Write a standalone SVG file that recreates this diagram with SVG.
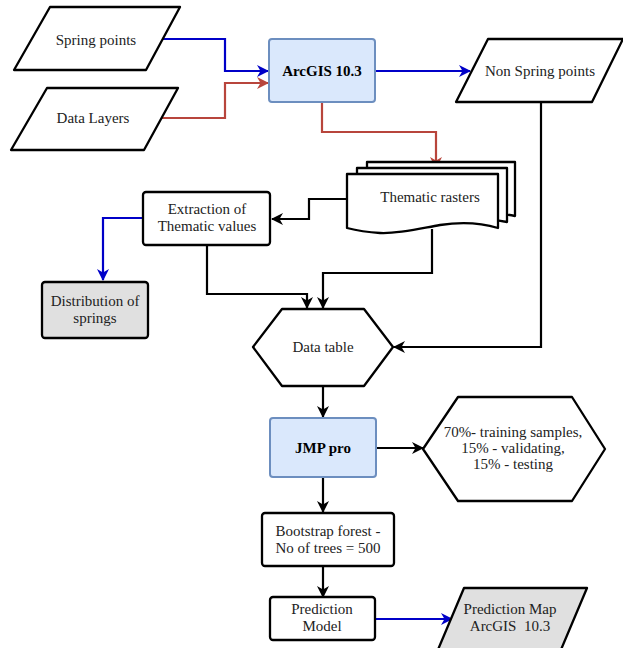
<svg xmlns="http://www.w3.org/2000/svg" width="623" height="648" viewBox="0 0 623 648">
<style>
.n{fill:#ffffff;stroke:#000;stroke-width:2.3;stroke-linejoin:round}
.b{fill:#dae8fc;stroke:#6c8ebf;stroke-width:2}
.g{fill:#e0e0e0;stroke:#000;stroke-width:2.3;stroke-linejoin:round}
text{font-family:"Liberation Serif","Times New Roman",serif;font-size:15px;fill:#222;text-anchor:middle;dominant-baseline:central}
.bold{font-weight:bold;fill:#000}
.c{fill:none;stroke-width:2.2;stroke-linejoin:miter}
.k{stroke:#000}
.bl{stroke:#0000c8}
.rd{stroke:#b8453c}
</style>
<defs>
<marker id="ak" markerUnits="userSpaceOnUse" markerWidth="12" markerHeight="12" viewBox="0 0 12 12" refX="11" refY="6" orient="auto"><path d="M0,0 L12,6 L0,12 L3.5,6 Z" fill="#000"/></marker>
<marker id="ab" markerUnits="userSpaceOnUse" markerWidth="12" markerHeight="12" viewBox="0 0 12 12" refX="11" refY="6" orient="auto"><path d="M0,0 L12,6 L0,12 L3.5,6 Z" fill="#0000c8"/></marker>
<marker id="ar" markerUnits="userSpaceOnUse" markerWidth="12" markerHeight="12" viewBox="0 0 12 12" refX="11" refY="6" orient="auto"><path d="M0,0 L12,6 L0,12 L3.5,6 Z" fill="#b8453c"/></marker>
</defs>
<rect width="623" height="648" fill="#ffffff"/>
<g id="connectors">
<path class="c bl" d="M163,39 H225 V71 H268" marker-end="url(#ab)"/>
<path class="c rd" d="M161,118 H225 V83 H268" marker-end="url(#ar)"/>
<path class="c bl" d="M375,71 H470" marker-end="url(#ab)"/>
<path class="c rd" d="M322,102 V132 H436 V168" marker-end="url(#ar)"/>
<path class="c k" d="M347,199 H309 V219 H272" marker-end="url(#ak)"/>
<path class="c bl" d="M143,218 H103 V280" marker-end="url(#ab)"/>
<path class="c k" d="M207,245 V294 H307 V308" marker-end="url(#ak)"/>
<path class="c k" d="M432,229 V273 H323 V308" marker-end="url(#ak)"/>
<path class="c k" d="M541,102 V347 H394" marker-end="url(#ak)"/>
<path class="c k" d="M323,386 V417" marker-end="url(#ak)"/>
<path class="c k" d="M376,448 H423" marker-end="url(#ak)"/>
<path class="c k" d="M323,477 V512" marker-end="url(#ak)"/>
<path class="c k" d="M323,566 V597" marker-end="url(#ak)"/>
<path class="c bl" d="M375,619 H452" marker-end="url(#ab)"/>
</g>
<g id="spring-points">
<path class="n" d="M50,7 H180 L146,70 H14 Z"/>
<text x="96" y="40">Spring points</text>
</g>
<g id="data-layers">
<path class="n" d="M47,88 H178 L144,150 H11 Z"/>
<text x="93" y="118">Data Layers</text>
</g>
<g id="arcgis">
<rect class="b" x="269" y="39" width="106" height="63" rx="3"/>
<text class="bold" x="322" y="71">ArcGIS 10.3</text>
</g>
<g id="non-spring-points">
<path class="n" d="M488,39 H623 L592,102 H456 Z"/>
<text x="540" y="71">Non Spring points</text>
</g>
<g id="thematic-rasters">
<path class="n" d="M367,162 H515 V216 C495,212 480,212 460,214 C440,217 420,219 400,218 L367,214 Z"/>
<path class="n" d="M357,168 H507 V222 C487,218 470,218 450,220 C430,223 410,225 390,224 L357,220 Z"/>
<path class="n" d="M347,174 H498 V228 C478,222 460,222 440,225 C418,229 398,234 380,233 C365,232 355,230 347,228 Z"/>
<text x="430" y="197">Thematic rasters</text>
</g>
<g id="extraction">
<rect class="n" x="143" y="192" width="127" height="53" rx="3"/>
<text x="207" y="209">Extraction of</text>
<text x="207" y="226">Thematic values</text>
</g>
<g id="distribution">
<rect class="g" x="42" y="282" width="106" height="56" rx="3"/>
<text x="95" y="301">Distribution of</text>
<text x="95" y="318">springs</text>
</g>
<g id="data-table">
<path class="n" d="M253,347 L282,309 H364 L393,347 L364,386 H282 Z"/>
<text x="323" y="347">Data table</text>
</g>
<g id="jmp-pro">
<rect class="b" x="270" y="418" width="106" height="59" rx="3"/>
<text class="bold" x="323" y="448">JMP pro</text>
</g>
<g id="split">
<path class="n" d="M423,449 L458,397 H572 L605,449 L572,501 H458 Z"/>
<text x="513" y="432">70%- training samples,</text>
<text x="513" y="448">15% - validating,</text>
<text x="513" y="464">15% - testing</text>
</g>
<g id="bootstrap">
<rect class="n" x="262" y="513" width="132" height="53" rx="3"/>
<text x="328" y="531">Bootstrap forest -</text>
<text x="328" y="548">No of trees = 500</text>
</g>
<g id="prediction-model">
<rect class="n" x="270" y="597" width="105" height="43" rx="3"/>
<text x="322" y="609">Prediction</text>
<text x="322" y="626">Model</text>
</g>
<g id="prediction-map">
<path class="g" d="M464,588 H587 L560,652 H437 Z"/>
<text x="510" y="609">Prediction Map</text>
<text x="510" y="626">ArcGIS&#160; 10.3</text>
</g>
</svg>
